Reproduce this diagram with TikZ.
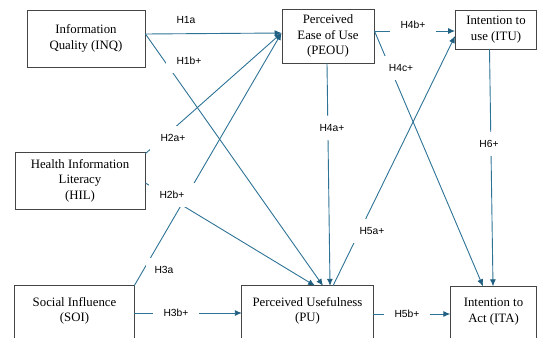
\documentclass[tikz,border=0pt]{standalone}
\usepackage{fontspec}
\setmainfont{Liberation Serif}
\newfontfamily\labfont{Liberation Sans}
\usetikzlibrary{arrows.meta}
\definecolor{linkc}{HTML}{2D7396}
\definecolor{tipc}{HTML}{1F5F82}
\definecolor{boxc}{HTML}{454545}
\begin{document}
\begin{tikzpicture}[x=1pt,y=-1pt,
  boxnode/.style={draw=boxc, line width=0.9pt, inner sep=0pt, align=center, font=\fontsize{12.8}{15.5}\selectfont},
  openbox/.style={inner sep=0pt, align=center, font=\fontsize{12.8}{15.5}\selectfont},
  boxline/.style={draw=boxc, line width=0.9pt},
  link/.style={draw=linkc, line width=0.9pt, -{Latex[length=7pt,width=6pt,color=tipc]}},
  hyp/.style={fill=white, inner sep=0pt, minimum width=46pt, minimum height=24pt, font=\labfont\fontsize{10.3}{12}\selectfont}
]
\useasboundingbox (0,0) rectangle (537,337);
\clip (0,0) rectangle (537,337);

% boxes
\node[boxnode, minimum width=118pt, minimum height=57pt] (inq) at (86,38.5) {Information\\Quality (INQ)};
\node[boxnode, minimum width=92pt, minimum height=54pt] (peou) at (328,36) {Perceived\\Ease of Use\\(PEOU)};
\node[boxnode, minimum width=81pt, minimum height=39pt] (itu) at (496,29.5) {Intention to\\use (ITU)};
\node[boxnode, minimum width=130pt, minimum height=57pt] (hil) at (80,180.5) {Health Information\\Literacy\\(HIL)};
\node[openbox, minimum width=119pt, minimum height=50pt] (soi) at (74.5,311) {Social Influence\\(SOI)};
\node[openbox, minimum width=131pt, minimum height=50pt] (pu) at (307.5,311) {Perceived Usefulness\\(PU)};
\node[openbox, minimum width=86pt, minimum height=50pt] (ita) at (493.5,311.5) {Intention to\\Act (ITA)};
\foreach \b in {soi,pu,ita}{
  \draw[boxline] (\b.north west) ++(0,60) -- (\b.north west) -- (\b.north east) -- ++(0,60);
}

% connectors
\draw[link] ([yshift=4.5pt]inq.east) -- ([yshift=3pt]peou.west);
\draw[link] ([yshift=4.5pt]inq.east) -- ([xshift=15.5pt]pu.north);
\draw[link] ([yshift=-2pt]hil.north east) -- ([yshift=3pt]peou.west);
\draw[link] ([yshift=-2.5pt]hil.east) -- ([xshift=7.5pt]pu.north);
\draw[link] (soi.north east) -- ([yshift=3pt]peou.west);
\draw[link] ([yshift=-2pt]soi.east) -- ([yshift=-2pt]pu.west);
\draw[link] ([xshift=-1pt]peou.south) -- ([xshift=22.5pt]pu.north);
\draw[link] ([yshift=5pt]peou.east) -- ([yshift=-1.5pt]itu.west);
\draw[link] ([yshift=5pt]peou.east) -- ([xshift=-10.5pt]ita.north);
\draw[link] ([xshift=25.5pt]pu.north) -- ([yshift=-6.5pt]itu.west);
\draw[link] ([yshift=-3pt]pu.east) -- ([yshift=-2.5pt]ita.west);
\draw[link] ([xshift=-6.5pt]itu.south) -- ([xshift=-0.5pt]ita.north);

% hypothesis labels
\node[hyp, fill=none] (h1a) at (186,20) {H1a};
\node[hyp] (h1b) at (189,61) {H1b+};
\node[hyp] (h2a) at (173,138) {H2a+};
\node[hyp] (h2b) at (172,195) {H2b+};
\node[hyp, minimum width=36pt] (h3a) at (164,270) {H3a};
\node[hyp] (h3b) at (176,313) {H3b+};
\node[hyp] (h4a) at (332,128) {H4a+};
\node[hyp] (h4b) at (413,25) {H4b+};
\node[hyp] (h4c) at (401,68) {H4c+};
\node[hyp] (h5a) at (372,231) {H5a+};
\node[hyp] (h5b) at (407,314) {H5b+};
\node[hyp] (h6) at (489,144) {H6+};
\end{tikzpicture}
\end{document}
